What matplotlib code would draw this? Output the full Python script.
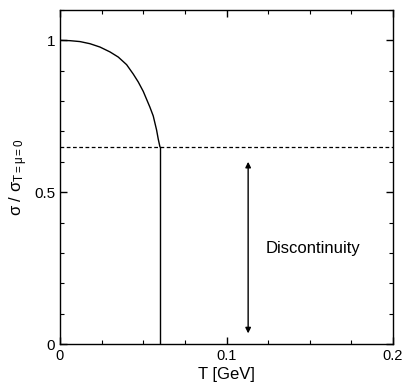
import matplotlib
matplotlib.use('Agg')
import matplotlib.pyplot as plt
from matplotlib.ticker import MultipleLocator

plt.rcParams['font.family'] = ['Liberation Sans', 'DejaVu Sans']
plt.rcParams['mathtext.fontset'] = 'custom'
plt.rcParams['mathtext.rm'] = 'Liberation Sans'
plt.rcParams['mathtext.it'] = 'Liberation Sans'

# sigma / sigma_0
T_vals = [0.0, 0.006, 0.012, 0.018, 0.024, 0.030, 0.035, 0.040, 0.044,
          0.047, 0.050, 0.052, 0.054, 0.056, 0.058, 0.059, 0.060]
sigma_vals = [1.0, 0.999, 0.996, 0.989, 0.978, 0.962, 0.945, 0.920, 0.889,
              0.863, 0.832, 0.806, 0.780, 0.751, 0.705, 0.675, 0.650]
T_c = 0.06
sigma_jump = 0.65
arrow_T = 0.113
arrow_top = 0.60
arrow_bottom = 0.035

fig = plt.figure(figsize=(4.06, 3.86), dpi=100)
ax = fig.add_axes([60 / 406, 1 - 344 / 386, 333 / 406, 334 / 386])

ax.plot(T_vals, sigma_vals, color='black', lw=1)
ax.plot([T_c, T_c], [sigma_jump, 0], color='black', lw=1)
ax.axhline(sigma_jump, color='black', lw=0.9, ls=(0, (3, 2)))

ax.annotate('', xy=(arrow_T, arrow_top), xytext=(arrow_T, arrow_bottom),
            arrowprops=dict(arrowstyle='<|-|>', color='black', lw=1,
                            mutation_scale=8, shrinkA=0, shrinkB=0))
ax.text(0.1237, 0.313, 'Discontinuity', fontsize=12, va='center', ha='left')

ax.set_xlim(0, 0.2)
ax.set_ylim(0, 1.1)
ax.xaxis.set_minor_locator(MultipleLocator(0.025))
ax.yaxis.set_minor_locator(MultipleLocator(0.1))
ax.set_xticks([0, 0.1, 0.2])
ax.set_xticklabels(['0', '0.1', '0.2'])
ax.set_yticks([0, 0.5, 1])
ax.set_yticklabels(['0', '0.5', '1'])
ax.tick_params(which='both', direction='in', top=True, right=True)
ax.tick_params(axis='x', labelsize=10.5)
ax.tick_params(axis='y', labelsize=11)
ax.tick_params(which='major', length=5, width=1)
ax.tick_params(which='minor', length=3, width=0.8)
for s in ax.spines.values():
    s.set_linewidth(1)

ax.set_xlabel('T [GeV]', fontsize=12, labelpad=3)
ax.set_ylabel(r'$\sigma\ /\ \sigma_{T=\mu=0}$', fontsize=12, labelpad=3)

fig.savefig('out.png', dpi=100)
